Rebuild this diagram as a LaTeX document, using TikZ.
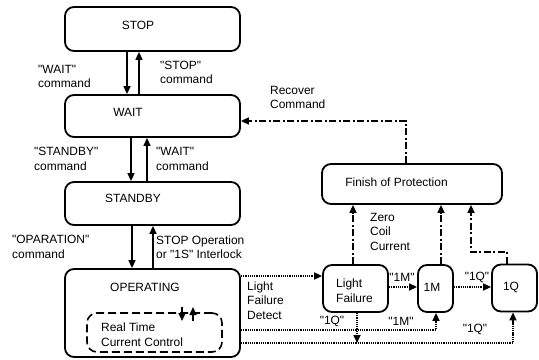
\documentclass[tikz,border=0pt]{standalone}
\usepackage{fontspec}
\newfontfamily\lsans{Liberation Sans}
\usetikzlibrary{arrows.meta}
\begin{document}
\begin{tikzpicture}[x=1bp,y=-1bp,
  font=\lsans\fontsize{12}{14.5}\selectfont,
  >={Triangle[length=8bp,width=7bp]},
  state/.style={draw, line width=1.8bp, rounded corners=9bp, inner sep=0pt},
  txt/.style={inner sep=0pt, align=left},
  lbl/.style={inner sep=0pt, align=left, anchor=west},
  solidarr/.style={->, line width=1.6bp},
  dotarr/.style={->, line width=1.6bp, dash pattern=on 1.3bp off 0.9bp},
  dasharr/.style={->, line width=1.6bp, dash pattern=on 7bp off 2.5bp on 2bp off 2.5bp},
  innerbox/.style={draw, line width=1.6bp, rounded corners=10bp, dash pattern=on 8bp off 4bp, inner sep=0pt}]
\useasboundingbox (0,0) rectangle (539,359);

% state boxes
\node[state, minimum width=175bp, minimum height=44bp] (stop) at (152.5,29) {};
\node[state, minimum width=175bp, minimum height=42bp] (wait) at (152.5,116) {};
\node[state, minimum width=175bp, minimum height=43bp] (stby) at (152.5,203.5) {};
\node[state, minimum width=175bp, minimum height=88bp] (op) at (152.5,313) {};
\node[innerbox, minimum width=135bp, minimum height=39bp] (rt) at (154.5,332.5) {};
\node[state, minimum width=180bp, minimum height=40bp] (fin) at (412,184) {};
\node[state, minimum width=65bp, minimum height=47bp] (lf) at (355.5,288.5) {};
\node[state, minimum width=35bp, minimum height=47bp] (m1) at (435.5,288.5) {};
\node[state, minimum width=45bp, minimum height=47bp] (q1) at (514.5,288) {};

% box texts
\node[txt] (stopT) at (138,25) {STOP};
\node[txt] (waitT) at (128,112) {WAIT};
\node[txt] (stbyT) at (133,198) {STANDBY};
\node[txt] (opT) at (145,287) {OPERATING};
\node[lbl] (rtT) at (101,334.5) {Real Time\\Current Control};
\node[txt] (finT) at (396.5,182) {Finish of Protection};
\node[lbl] (lfT) at (336,290.5) {Light\\Failure};
\node[txt] (m1T) at (432,287) {1M};
\node[txt] (q1T) at (511,287) {1Q};

% transition labels
\node[lbl] (l1) at (38,76.5) {"WAIT"\\command};
\node[lbl] (l2) at (160,72.5) {"STOP"\\command};
\node[lbl] (l3) at (34,159) {"STANDBY"\\command};
\node[lbl] (l4) at (156,159) {"WAIT"\\command};
\node[lbl] (l5) at (12,247) {"OPARATION"\\command};
\node[lbl] (l6) at (156,247) {STOP Operation\\or "1S" Interlock};
\node[lbl] (l7) at (270,97.5) {Recover\\Command};
\node[lbl] (l8) at (370,231.5) {Zero\\Coil\\Current};
\node[lbl] (l9) at (247,300.5) {Light\\Failure\\Detect};
\node[txt] (l10) at (402,277) {"1M"};
\node[txt] (l11) at (477,277) {"1Q"};
\node[txt] (l12) at (332,321) {"1Q"};
\node[txt] (l13) at (401,321) {"1M"};
\node[txt] (l14) at (475,329) {"1Q"};

% solid transitions
\draw[solidarr] (stop.south -| 127,0) -- (wait.north -| 127,0);
\draw[solidarr] (wait.north -| 139,0) -- (stop.south -| 139,0);
\draw[solidarr] (wait.south -| 131,0) -- (stby.north -| 131,0);
\draw[solidarr] (stby.north -| 147,0) -- (wait.south -| 147,0);
\draw[solidarr] (stby.south -| 132,0) -- (op.north -| 132,0);
\draw[solidarr] (op.north -| 153,0) -- (stby.south -| 153,0);

% small arrows on real-time control box
\coordinate (a1s) at (182,307);
\coordinate (a1e) at (182,321);
\coordinate (a2s) at (193,321);
\coordinate (a2e) at (193,307);
\draw[solidarr] (a1s) -- (a1e);
\draw[solidarr] (a2s) -- (a2e);

% dotted failure lines
\draw[dotarr] (op.east |- 0,276) -- (lf.west |- 0,276);
\draw[dotarr] (op.east |- 0,330) -- (436,330) -- (m1.south -| 436,0);
\draw[dotarr] (op.east |- 0,343) -- (513,343) -- (q1.south -| 513,0);
\draw[dotarr] (lf.south -| 357,0) -- (357,343);
\draw[dotarr] (lf.east |- 0,287) -- (m1.west |- 0,287);
\draw[dotarr] (m1.east |- 0,287) -- (q1.west |- 0,287);

% dash-dot protection lines
\draw[dasharr] (lf.north -| 353,0) -- (fin.south -| 353,0);
\draw[dasharr] (m1.north -| 441,0) -- (fin.south -| 441,0);
\draw[dasharr] (q1.north -| 507,0) -- (507,252) -- (471,252) -- (fin.south -| 471,0);
\draw[dasharr] (fin.north -| 406,0) -- (406,121) -- (wait.east |- 0,121);
\end{tikzpicture}
\end{document}
